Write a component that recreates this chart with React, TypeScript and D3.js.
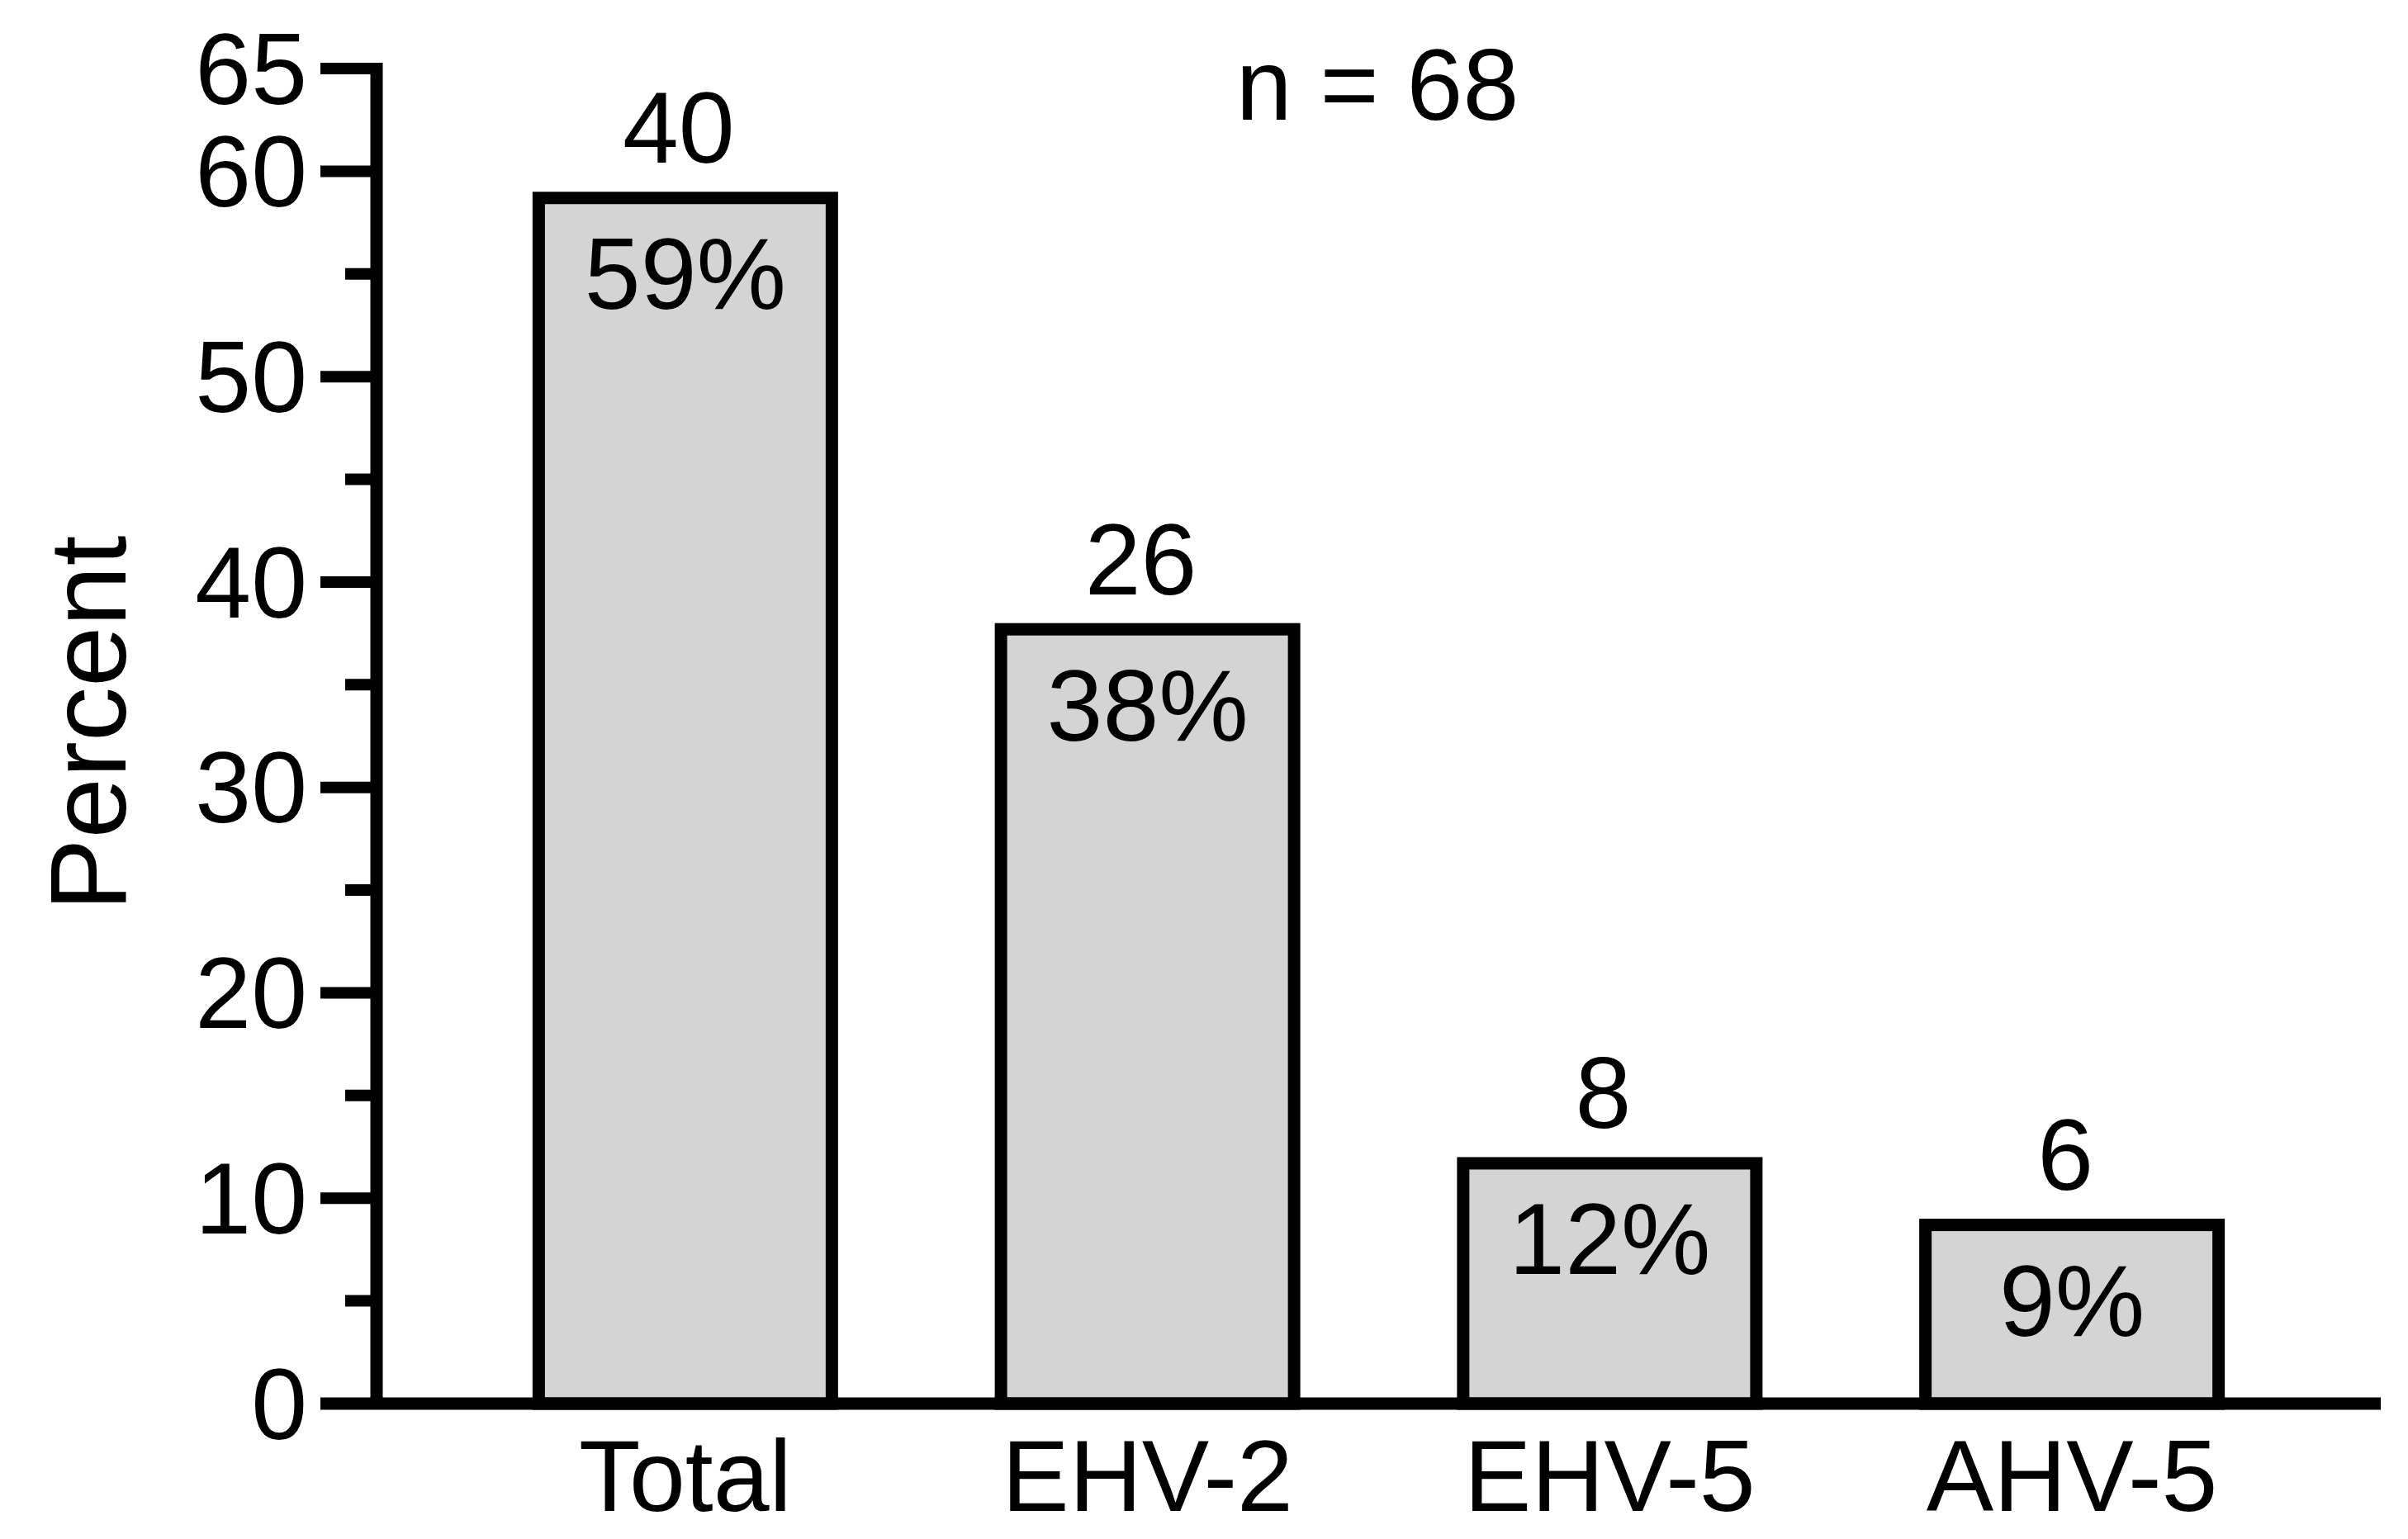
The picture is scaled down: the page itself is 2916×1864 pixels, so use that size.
import React from "react";
import * as d3 from "d3";

const categories = ["Total", "EHV-2", "EHV-5", "AHV-5"];
const percents = [59, 38, 12, 9];
const counts = [40, 26, 8, 6];
const majorTicks = [0, 10, 20, 30, 40, 50, 60, 65];
const minorTicks = [5, 15, 25, 35, 45, 55];
const yTitle = "Percent";
const annotation = "n = 68";

const W = 2916;
const H = 1864;
const FONT = "'Liberation Sans', Arial, Helvetica, sans-serif";
const FS = 122;
const SW = 15;

export default function App() {
  const y = d3.scaleLinear().domain([0, 65]).range([1700, 83]);
  const x = d3.scaleBand<string>().domain(categories).range([550, 2789]).padding(0);
  const axisX = 456;
  const barOuter = x.step() * 0.661;
  const cx = (c: string) => (x(c) as number) + x.bandwidth() / 2;

  return (
    <svg
      width={W}
      height={H}
      viewBox={`0 0 ${W} ${H}`}
      style={{ position: "absolute", left: 0, top: 0, background: "#fff" }}
      fontFamily={FONT}
    >
      <rect x={0} y={0} width={W} height={H} fill="#fff" />
      {/* bars */}
      {categories.map((c, i) => {
        const top = y(percents[i]);
        const bottom = y(0);
        return (
          <rect
            key={c}
            x={cx(c) - barOuter / 2 + SW / 2}
            y={top + SW / 2}
            width={barOuter - SW}
            height={bottom - top - SW / 2}
            fill="#d4d4d4"
            stroke="#000"
            strokeWidth={SW}
          />
        );
      })}
      {/* y axis */}
      <line x1={axisX} x2={axisX} y1={y(65) - 7} y2={y(0)} stroke="#000" strokeWidth={SW} />
      {majorTicks.map((t) => (
        <g key={"M" + t}>
          <line x1={388} x2={axisX} y1={y(t)} y2={y(t)} stroke="#000" strokeWidth={14} />
          <text x={372} y={y(t)} dy="0.35em" textAnchor="end" fontSize={FS}>
            {t}
          </text>
        </g>
      ))}
      {minorTicks.map((t) => (
        <line key={"m" + t} x1={418} x2={axisX} y1={y(t)} y2={y(t)} stroke="#000" strokeWidth={14} />
      ))}
      {/* x axis */}
      <line x1={388} x2={2883} y1={y(0)} y2={y(0)} stroke="#000" strokeWidth={SW} />
      {categories.map((c) => (
        <text key={"xl" + c} x={cx(c)} y={1830} textAnchor="middle" fontSize={FS}>
          {c}
        </text>
      ))}
      {/* labels */}
      {categories.map((c, i) => (
        <g key={"lab" + c}>
          <text x={cx(c) - 8} y={y(percents[i]) - 35} textAnchor="middle" fontSize={FS}>
            {counts[i]}
          </text>
          <text x={cx(c)} y={y(percents[i]) + 142} textAnchor="middle" fontSize={FS}>
            {percents[i] + "%"}
          </text>
        </g>
      ))}
      <text x={1668} y={145} textAnchor="middle" fontSize={FS}>
        {annotation}
      </text>
      <text transform={`translate(152, 876) rotate(-90)`} textAnchor="middle" fontSize={132}>
        {yTitle}
      </text>
    </svg>
  );
}
